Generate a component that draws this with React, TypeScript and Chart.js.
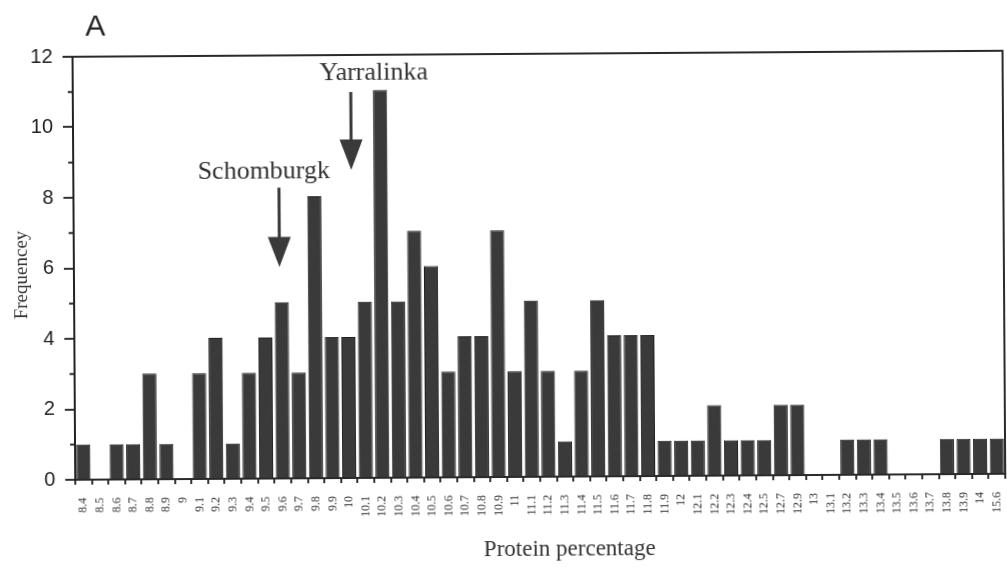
import React, { useEffect, useRef } from "react";
import { Chart, registerables } from "chart.js";

Chart.register(...registerables);

// Protein percentage classes (x categories)
const CATEGORIES: string[] = [
  "8.4", "8.5", "8.6", "8.7", "8.8", "8.9",
  "9", "9.1", "9.2", "9.3", "9.4", "9.5", "9.6", "9.7", "9.8", "9.9",
  "10", "10.1", "10.2", "10.3", "10.4", "10.5", "10.6", "10.7", "10.8", "10.9",
  "11", "11.1", "11.2", "11.3", "11.4", "11.5", "11.6", "11.7", "11.8", "11.9",
  "12", "12.1", "12.2", "12.3", "12.4", "12.5", "12.7", "12.9",
  "13", "13.1", "13.2", "13.3", "13.4", "13.5", "13.6", "13.7", "13.8", "13.9",
  "14", "15.6",
];

// Number of lines in each class
const FREQUENCY: number[] = [
  1, 0, 1, 1, 3, 1,
  0, 3, 4, 1, 3, 4, 5, 3, 8, 4,
  4, 5, 11, 5, 7, 6, 3, 4, 4, 7,
  3, 5, 3, 1, 3, 5, 4, 4, 4, 1,
  1, 1, 2, 1, 1, 1, 2, 2,
  0, 0, 1, 1, 1, 0, 0, 0, 1, 1,
  1, 1,
];

const Y_MIN = 0;
const Y_MAX = 12;
const Y_STEP = 2;

// Highlighted cultivars: category, arrow tip / shaft top / label baseline (frequency units)
const CALLOUTS = [
  { name: "Schomburgk", category: "9.6", dx: -2, tip: 6.0, head: 6.85, top: 8.25, label: 8.52, labelDx: -15 },
  { name: "Yarralinka", category: "10", dx: 4, tip: 8.74, head: 9.6, top: 10.95, label: 11.29, labelDx: 23 },
];

const SERIF = '"Liberation Serif", "Times New Roman", "DejaVu Serif", serif';
const SANS = '"Liberation Sans", Arial, "DejaVu Sans", sans-serif';

const decorPlugin = {
  id: "decor",
  afterDraw(chart: any) {
    const { ctx, chartArea, scales } = chart;
    const { left, top, right, bottom } = chartArea;
    const x = scales.x;
    const y = scales.y;
    ctx.save();

    // frame: top and right edges
    ctx.strokeStyle = "#2a2a2a";
    ctx.lineWidth = 2;
    ctx.beginPath();
    ctx.moveTo(left - 10, top);
    ctx.lineTo(right, top);
    ctx.lineTo(right, bottom);
    ctx.stroke();

    // minor ticks on the frequency axis
    ctx.lineWidth = 2;
    for (let v = Y_MIN + 1; v < Y_MAX; v += 2) {
      const py = y.getPixelForValue(v);
      ctx.beginPath();
      ctx.moveTo(left - 5, py);
      ctx.lineTo(left - 1, py);
      ctx.stroke();
    }

    // category labels, reading bottom to top
    ctx.fillStyle = "#333";
    ctx.font = `12px ${SERIF}`;
    ctx.textAlign = "right";
    ctx.textBaseline = "middle";
    CATEGORIES.forEach((c, i) => {
      const px = x.getPixelForValue(i);
      ctx.save();
      ctx.translate(px, bottom + 18);
      ctx.rotate(-Math.PI / 2);
      ctx.fillText(c, 0, 0);
      ctx.restore();
    });

    // axis titles
    ctx.fillStyle = "#333";
    ctx.font = `23px ${SERIF}`;
    ctx.textAlign = "center";
    ctx.textBaseline = "alphabetic";
    ctx.fillText("Protein percentage", 568, 556);

    ctx.save();
    ctx.translate(22, 272);
    ctx.rotate(-Math.PI / 2);
    ctx.font = `19px ${SERIF}`;
    ctx.textBaseline = "middle";
    ctx.fillText("Frequencey", 0, 0);
    ctx.restore();

    // panel letter
    ctx.fillStyle = "#222";
    ctx.font = `30px ${SANS}`;
    ctx.textAlign = "center";
    ctx.textBaseline = "alphabetic";
    ctx.fillText("A", 97, 33);

    // cultivar call-outs
    CALLOUTS.forEach((c) => {
      const idx = CATEGORIES.indexOf(c.category);
      const ax = x.getPixelForValue(idx) + c.dx;
      const tipY = y.getPixelForValue(c.tip);
      const headY = y.getPixelForValue(c.head);
      const topY = y.getPixelForValue(c.top);
      ctx.fillStyle = "#3a3a3a";
      ctx.fillRect(ax - 1.5, topY, 3, headY - topY + 1);
      ctx.beginPath();
      ctx.moveTo(ax - 11.5, headY);
      ctx.lineTo(ax + 11.5, headY);
      ctx.lineTo(ax, tipY);
      ctx.closePath();
      ctx.fill();

      ctx.fillStyle = "#333";
      ctx.font = `26px ${SERIF}`;
      ctx.textAlign = "center";
      ctx.textBaseline = "alphabetic";
      ctx.fillText(c.name, ax + c.labelDx, y.getPixelForValue(c.label));
    });

    ctx.restore();
  },
};

export default function App() {
  const canvasRef = useRef<HTMLCanvasElement | null>(null);

  useEffect(() => {
    if (!canvasRef.current) return;
    const chart = new Chart(canvasRef.current, {
      type: "bar",
      data: {
        labels: CATEGORIES,
        datasets: [
          {
            data: FREQUENCY,
            backgroundColor: "#3a3a3a",
            borderColor: "#1f1f1f",
            borderWidth: 1,
            barPercentage: 0.85,
            categoryPercentage: 1,
          },
        ],
      },
      options: {
        animation: false,
        responsive: false,
        devicePixelRatio: 1,
        layout: { padding: { top: 54, right: 3, left: 0, bottom: 0 } },
        plugins: {
          legend: { display: false },
          tooltip: { enabled: false },
        },
        scales: {
          x: {
            type: "category",
            offset: true,
            grid: {
              offset: true,
              display: true,
              drawOnChartArea: false,
              drawTicks: true,
              tickLength: 5,
              color: "#333",
              lineWidth: 2,
            },
            border: { display: true, color: "#2a2a2a", width: 2 },
            ticks: { display: false },
            afterFit: (s: any) => {
              s.height = 90;
            },
          },
          y: {
            min: Y_MIN,
            max: Y_MAX,
            ticks: {
              stepSize: Y_STEP,
              color: "#222",
              padding: 10,
              font: { family: SANS, size: 20 },
            },
            grid: {
              drawOnChartArea: false,
              tickLength: 10,
              color: "#333",
              lineWidth: 2,
            },
            border: { display: true, color: "#222", width: 2 },
            afterFit: (s: any) => {
              s.width = 74;
            },
          },
        },
      },
      plugins: [decorPlugin],
    });
    return () => chart.destroy();
  }, []);

  return (
    <div
      style={{
        position: "fixed",
        left: 0,
        top: 0,
        width: 1007,
        height: 567,
        background: "#fff",
        transform: "rotate(-0.37deg)",
      }}
    >
      <canvas ref={canvasRef} width={1007} height={567} />
    </div>
  );
}
